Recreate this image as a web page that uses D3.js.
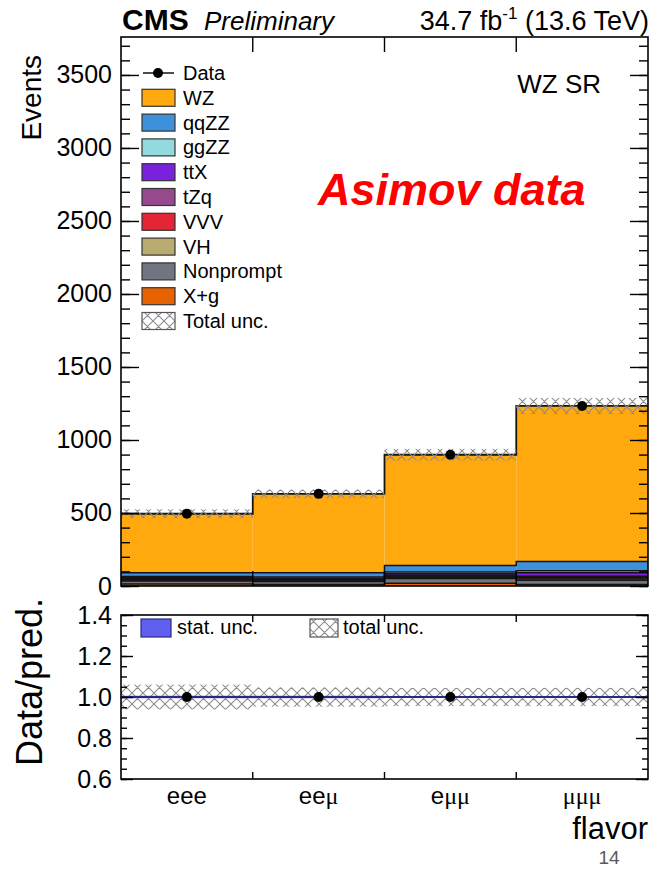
<!DOCTYPE html>
<html lang="en">
<head>
<meta charset="UTF-8"/>
<title>WZ SR flavor</title>
<script src="https://d3js.org/d3.v7.min.js"></script>
<style>
  body { margin: 0; background: #fff; }
  svg text { font-family: "Liberation Sans", Arial, sans-serif; fill: #000; }
</style>
</head>
<body>
<script>
// ---- data ----
var flavors   = ["eee", "ee\u03bc", "e\u03bc\u03bc", "\u03bc\u03bc\u03bc"];
var wz        = [405, 541, 758, 1066];
var qqZZ      = [25, 28, 45, 62];
var ggZZ      = [8, 9, 12, 14];
var ttX       = [6, 6, 10, 25];
var tZq       = [5, 5, 7, 9];
var vvv       = [6, 6, 8, 9];
var vh        = [5, 5, 7, 8];
var nonprompt = [22, 20, 34, 30];
var xg        = [13, 11, 18, 10];
var data      = [495, 631, 899, 1233];
var totalUnc  = [30, 30, 40, 55];
var statUnc   = [0.006, 0.006, 0.005, 0.005];
var mainTicks  = [0, 500, 1000, 1500, 2000, 2500, 3000, 3500];
var ratioTicks = [0.6, 0.8, 1.0, 1.2, 1.4];

// stack order bottom -> top
var procs = [
  {name: "X+g",       vals: xg,        color: "#e76300"},
  {name: "Nonprompt", vals: nonprompt, color: "#717581"},
  {name: "VH",        vals: vh,        color: "#b9ac70"},
  {name: "VVV",       vals: vvv,       color: "#e42536"},
  {name: "tZq",       vals: tZq,       color: "#964a8b"},
  {name: "ttX",       vals: ttX,       color: "#7a21dd"},
  {name: "ggZZ",      vals: ggZZ,      color: "#92dadd"},
  {name: "qqZZ",      vals: qqZZ,      color: "#3f90da"},
  {name: "WZ",        vals: wz,        color: "#ffa90e"}
];

var w = 654, h = 869;
var left = 121, right = 648;
var svg = d3.select("body").append("svg").attr("width", w).attr("height", h);

var defs = svg.append("defs");
var pat = defs.append("pattern").attr("id", "hatch").attr("patternUnits", "userSpaceOnUse")
  .attr("width", 11).attr("height", 11);
pat.append("path").attr("d", "M0,0L11,11M11,0L0,11M-5.5,5.5L5.5,-5.5M5.5,16.5L16.5,5.5M-5.5,5.5L5.5,16.5M5.5,-5.5L16.5,5.5")
  .attr("stroke", "#8c8c8c").attr("stroke-width", 1.1).attr("fill", "none");

var x = d3.scaleLinear().domain([0, 4]).range([left, right]);
var y = d3.scaleLinear().domain([0, 3760]).range([586, 37]);
var yr = d3.scaleLinear().domain([0.6, 1.4]).range([779, 615]);

// ---- stacked histogram ----
var totals = flavors.map(function(f, i) { return d3.sum(procs, function(p) { return p.vals[i]; }); });
var stack = d3.stack().keys(procs.map(function(p, k) { return k; }))
  .value(function(d, k) { return procs[k].vals[d]; });
var layers = stack(d3.range(flavors.length));

layers.forEach(function(layer, k) {
  svg.append("g").selectAll("rect").data(layer).enter().append("rect")
    .attr("x", function(d, i) { return x(i); })
    .attr("width", function(d, i) { return x(i + 1) - x(i); })
    .attr("y", function(d) { return y(d[1]); })
    .attr("height", function(d) { return y(d[0]) - y(d[1]); })
    .attr("fill", procs[k].color);
});
layers.forEach(function(layer, k) {
  // step outline on top of each component
  var pts = [];
  layer.forEach(function(d, i) { pts.push([x(i), y(d[1])]); pts.push([x(i + 1), y(d[1])]); });
  svg.append("path").attr("d", d3.line()(pts)).attr("fill", "none")
    .attr("stroke", "#141414").attr("stroke-width", k == procs.length - 1 ? 1.8 : 1.5);
});

// total uncertainty band
svg.append("g").selectAll("rect").data(totals).enter().append("rect")
  .attr("x", function(d, i) { return x(i); })
  .attr("width", function(d, i) { return x(i + 1) - x(i); })
  .attr("y", function(d, i) { return y(d + totalUnc[i]); })
  .attr("height", function(d, i) { return y(d - totalUnc[i]) - y(d + totalUnc[i]); })
  .attr("fill", "url(#hatch)");

// data points
svg.append("g").selectAll("circle").data(data).enter().append("circle")
  .attr("cx", function(d, i) { return x(i + 0.5); })
  .attr("cy", function(d) { return y(d); })
  .attr("r", 5).attr("fill", "#000");

// ---- main frame & axes ----
function yAxisGroup(scale, minorStep, major, minor, labels, fmt, fs) {
  var d0 = scale.domain();
  var minors = d3.range(d0[0], d0[1] + 1e-9, minorStep);
  var gl = svg.append("g").attr("transform", "translate(" + left + ",0)");
  gl.call(d3.axisLeft(scale).tickValues(minors).tickSize(-minor).tickFormat(""));
  var gm = svg.append("g").attr("transform", "translate(" + left + ",0)");
  gm.call(d3.axisLeft(scale).tickValues(labels).tickSize(-major).tickPadding(9).tickFormat(fmt));
  var gr = svg.append("g").attr("transform", "translate(" + right + ",0)");
  gr.call(d3.axisRight(scale).tickValues(minors).tickSize(-minor).tickFormat(""));
  var gr2 = svg.append("g").attr("transform", "translate(" + right + ",0)");
  gr2.call(d3.axisRight(scale).tickValues(labels).tickSize(-major).tickFormat(""));
  [gl, gm, gr, gr2].forEach(function(g) {
    g.select(".domain").remove();
    g.selectAll("line").attr("stroke", "#000").attr("stroke-width", 1.4);
  });
  gm.selectAll("text").style("font-size", fs + "px").style("font-family", "Liberation Sans, Arial, sans-serif");
}
yAxisGroup(y, 100, 18, 9, mainTicks, d3.format("d"), 25);

function xTicks(top, bottom, len) {
  var g = svg.append("g");
  [1, 2, 3].forEach(function(i) {
    g.append("line").attr("x1", x(i)).attr("x2", x(i)).attr("y1", top).attr("y2", top + len);
    g.append("line").attr("x1", x(i)).attr("x2", x(i)).attr("y1", bottom).attr("y2", bottom - len);
  });
  g.selectAll("line").attr("stroke", "#000").attr("stroke-width", 1.4);
}
xTicks(y.range()[1], y.range()[0], 15);

svg.append("rect").attr("x", left).attr("y", y.range()[1])
  .attr("width", right - left).attr("height", y.range()[0] - y.range()[1])
  .attr("fill", "none").attr("stroke", "#000").attr("stroke-width", 1.6);

// ---- ratio panel ----
svg.append("g").selectAll("rect").data(totals).enter().append("rect")
  .attr("x", function(d, i) { return x(i); })
  .attr("width", function(d, i) { return x(i + 1) - x(i); })
  .attr("y", function(d, i) { return yr(1 + totalUnc[i] / d); })
  .attr("height", function(d, i) { return yr(1 - totalUnc[i] / d) - yr(1 + totalUnc[i] / d); })
  .attr("fill", "url(#hatch)");
svg.append("g").selectAll("rect").data(statUnc).enter().append("rect")
  .attr("x", function(d, i) { return x(i); })
  .attr("width", function(d, i) { return x(i + 1) - x(i); })
  .attr("y", function(d) { return yr(1 + d); })
  .attr("height", function(d) { return yr(1 - d) - yr(1 + d); })
  .attr("fill", "#6060f0");
svg.append("line").attr("x1", left).attr("x2", right).attr("y1", yr(1)).attr("y2", yr(1))
  .attr("stroke", "#2a2a80").attr("stroke-width", 2);
svg.append("g").selectAll("circle").data(data).enter().append("circle")
  .attr("cx", function(d, i) { return x(i + 0.5); })
  .attr("cy", function(d, i) { return yr(d / totals[i]); })
  .attr("r", 5).attr("fill", "#000");

yAxisGroup(yr, 0.05, 12, 6, ratioTicks, d3.format(".1f"), 25);
xTicks(yr.range()[1], yr.range()[0], 7);
svg.append("rect").attr("x", left).attr("y", yr.range()[1])
  .attr("width", right - left).attr("height", yr.range()[0] - yr.range()[1])
  .attr("fill", "none").attr("stroke", "#000").attr("stroke-width", 1.6);

// x labels
var xl = svg.append("g").selectAll("text").data(flavors).enter().append("text")
  .attr("x", function(d, i) { return x(i + 0.5); })
  .attr("y", 804).attr("text-anchor", "middle").style("font-size", "24px");
xl.each(function(d) {
  var t = d3.select(this);
  d.split("").forEach(function(c) {
    t.append("tspan").text(c)
      .style("font-family", c == "e" ? "Liberation Sans, Arial, sans-serif" : "Liberation Serif, serif");
  });
});

// ---- texts ----
svg.append("text").attr("x", 648).attr("y", 839).attr("text-anchor", "end")
  .style("font-size", "31px").text("flavor");
svg.append("text").attr("x", 609).attr("y", 864).attr("text-anchor", "middle")
  .style("font-size", "19px").style("fill", "#595959").text("14");

svg.append("text").attr("transform", "translate(41,55) rotate(-90)").attr("text-anchor", "end")
  .style("font-size", "28px").text("Events");
svg.append("text").attr("transform", "translate(42,598) rotate(-90)").attr("text-anchor", "end")
  .style("font-size", "36px").text("Data/pred.");

svg.append("text").attr("x", 122).attr("y", 30).style("font-size", "30px")
  .style("font-weight", "bold").text("CMS");
svg.append("text").attr("x", 204).attr("y", 30).style("font-size", "26px")
  .style("font-style", "italic").text("Preliminary");
var lumi = svg.append("text").attr("x", 649).attr("y", 30).attr("text-anchor", "end")
  .style("font-size", "27px");
lumi.append("tspan").text("34.7 fb");
lumi.append("tspan").attr("dy", -11).style("font-size", "17px").text("-1");
lumi.append("tspan").attr("dy", 11).text(" (13.6 TeV)");

svg.append("text").attr("x", 601).attr("y", 93).attr("text-anchor", "end")
  .style("font-size", "26px").text("WZ SR");
svg.append("text").attr("x", 318).attr("y", 205)
  .style("font-size", "45px").style("font-weight", "bold").style("font-style", "italic")
  .style("fill", "#ff0000").text("Asimov data");

// ---- legend ----
var legItems = [{name: "Data", type: "data"}];
procs.slice().reverse().forEach(function(p) { legItems.push({name: p.name, type: "box", color: p.color}); });
legItems.push({name: "Total unc.", type: "hatch"});
var leg = svg.append("g").selectAll("g").data(legItems).enter().append("g")
  .attr("transform", function(d, i) { return "translate(142," + (73 + i * 24.8) + ")"; });
leg.each(function(d) {
  var g = d3.select(this);
  if (d.type == "data") {
    g.append("line").attr("x1", 1).attr("x2", 32).attr("stroke", "#000").attr("stroke-width", 1.4);
    g.append("circle").attr("cx", 16).attr("r", 5).attr("fill", "#000");
  } else {
    g.append("rect").attr("x", 0).attr("y", -8.5).attr("width", 33).attr("height", 17)
      .attr("fill", d.type == "hatch" ? "url(#hatch)" : d.color)
      .attr("stroke", d.type == "hatch" ? "#555" : "#333").attr("stroke-width", 1.2);
  }
  g.append("text").attr("x", 41).attr("y", 7).style("font-size", "20px").text(d.name);
});

// ratio legend
svg.append("rect").attr("x", 141).attr("y", 619).attr("width", 30).attr("height", 18)
  .attr("fill", "#6060f0").attr("stroke", "#2a2a80").attr("stroke-width", 1.2);
svg.append("text").attr("x", 177).attr("y", 634).style("font-size", "20px").text("stat. unc.");
svg.append("rect").attr("x", 310).attr("y", 619).attr("width", 28).attr("height", 18)
  .attr("fill", "url(#hatch)").attr("stroke", "#555").attr("stroke-width", 1.2);
svg.append("text").attr("x", 343).attr("y", 634).style("font-size", "20px").text("total unc.");
</script>
</body>
</html>
